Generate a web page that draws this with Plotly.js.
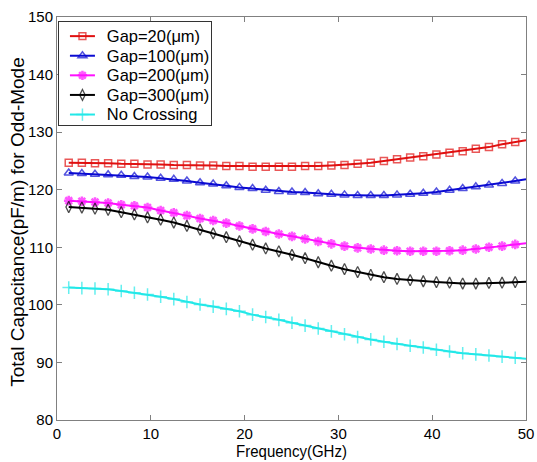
<!DOCTYPE html>
<html>
<head>
<meta charset="utf-8">
<script src="https://cdn.plot.ly/plotly-3.0.1.min.js"></script>
<style>html,body{margin:0;padding:0;background:#fff;}#chart{width:537px;height:462px;}</style>
</head>
<body>
<div id="chart"></div>
<script>
const freq = [1.25, 2.65, 4.05, 5.45, 6.85, 8.25, 9.65, 11.05, 12.45, 13.85, 15.25, 16.65, 18.05, 19.45, 20.85, 22.25, 23.65, 25.05, 26.45, 27.85, 29.25, 30.65, 32.05, 33.45, 34.85, 36.25, 37.65, 39.05, 40.45, 41.85, 43.25, 44.65, 46.05, 47.45, 48.85, 50];
const gap20 = [124.7, 124.7, 124.6, 124.6, 124.5, 124.5, 124.4, 124.4, 124.3, 124.3, 124.2, 124.2, 124.1, 124.1, 124.0, 124.0, 124.0, 124.0, 124.1, 124.1, 124.2, 124.3, 124.5, 124.7, 125.0, 125.3, 125.6, 125.8, 126.1, 126.4, 126.7, 127.1, 127.4, 127.9, 128.3, 128.6];
const gap100 = [122.9, 122.8, 122.7, 122.6, 122.5, 122.3, 122.2, 122.0, 121.8, 121.5, 121.2, 121.0, 120.7, 120.4, 120.2, 119.9, 119.7, 119.6, 119.5, 119.3, 119.2, 119.1, 119.0, 119.0, 119.0, 119.1, 119.2, 119.4, 119.6, 119.9, 120.2, 120.5, 120.8, 121.1, 121.5, 121.8];
const gap200 = [118.1, 118.0, 117.85, 117.7, 117.4, 117.2, 116.9, 116.4, 116.0, 115.5, 115.0, 114.65, 114.2, 113.7, 113.2, 112.75, 112.3, 111.9, 111.45, 111.0, 110.6, 110.2, 109.9, 109.7, 109.5, 109.4, 109.3, 109.3, 109.3, 109.4, 109.5, 109.7, 110.0, 110.2, 110.5, 110.7];
const gap300 = [117.0, 116.9, 116.7, 116.5, 116.1, 115.7, 115.2, 114.8, 114.3, 113.7, 113.05, 112.4, 111.75, 111.05, 110.45, 109.8, 109.3, 108.7, 108.1, 107.4, 106.8, 106.2, 105.7, 105.2, 104.8, 104.5, 104.3, 104.1, 103.95, 103.85, 103.7, 103.7, 103.8, 103.85, 103.95, 104.0];
const noCross = [103.0, 102.9, 102.85, 102.7, 102.4, 102.1, 101.8, 101.4, 101.0, 100.5, 100.05, 99.7, 99.3, 98.9, 98.3, 97.9, 97.4, 96.9, 96.4, 95.9, 95.4, 94.9, 94.4, 94.0, 93.6, 93.2, 92.9, 92.6, 92.2, 91.9, 91.6, 91.4, 91.2, 91.0, 90.8, 90.65];
const seriesNames = ["Gap=20(\u03bcm)", "Gap=100(\u03bcm)", "Gap=200(\u03bcm)", "Gap=300(\u03bcm)", "No Crossing"];
const xTickVals = [0, 10, 20, 30, 40, 50];
const yTickVals = [80, 90, 100, 110, 120, 130, 140, 150];

const colors = ["#e01010", "#0a0ad2", "#ff10ff", "#000000", "#22e8e8"];
const symbols = ["square-open", "triangle-up-open", "asterisk-open", "diamond-tall-open", "cross-thin-open"];
const msizes = [7, 8, 8, 8, 9];
const mlw = [1.5, 1.5, 2.5, 1.3, 1.5];
const allY = [gap20, gap100, gap200, gap300, noCross];

const traces = allY.map((ys, k) => ({
  x: freq, y: ys, name: seriesNames[k], type: "scatter", mode: "lines+markers",
  line: {color: colors[k], width: 2},
  marker: {symbol: symbols[k], size: freq.map((f, i) => (i === freq.length - 1 ? 0 : msizes[k])),
           color: colors[k], line: {color: colors[k], width: mlw[k]}}
}));

const FF = "Liberation Sans, Arial, sans-serif";
const layout = {
  width: 537, height: 462,
  margin: {l: 57, r: 11, t: 17, b: 42},
  paper_bgcolor: "#fff", plot_bgcolor: "#fff",
  showlegend: true,
  legend: {x: 0.002, y: 0.989, xanchor: "left", yanchor: "top", bgcolor: "#fff",
           bordercolor: "#333", borderwidth: 1, font: {family: FF, size: 13, color: "#000"}, tracegroupgap: 0},
  xaxis: {range: [0, 50], tickvals: xTickVals, ticktext: xTickVals.map(String), ticks: "inside", ticklen: 5,
          tickcolor: "#808080", showline: true, linecolor: "#808080", linewidth: 1, mirror: "ticks",
          showgrid: false, zeroline: false, tickfont: {family: FF, size: 15, color: "#000"},
          title: {text: "Frequency(GHz)", font: {family: FF, size: 15, color: "#000"}, standoff: 2}},
  yaxis: {range: [80, 150], tickvals: yTickVals, ticktext: yTickVals.map(String), ticks: "inside", ticklen: 5,
          tickcolor: "#808080", showline: true, linecolor: "#808080", linewidth: 1, mirror: "ticks",
          showgrid: false, zeroline: false, tickfont: {family: FF, size: 15, color: "#000"},
          title: {text: "Total Capacitance(pF/m) for Odd-Mode", font: {family: FF, size: 19, color: "#000"}, standoff: 0}}
};

function stretchY(el, sy, targetCy) {
  const b = el.getBBox();
  const r = el.getBoundingClientRect();
  const localCy = b.y + b.height / 2;
  const offset = (r.top + r.height / 2) - localCy;
  const existing = el.getAttribute("transform") || "";
  el.setAttribute("transform", existing + " translate(0," + (targetCy - offset) + ") scale(1," + sy + ") translate(0," + (-localCy) + ")");
}

Plotly.newPlot("chart", traces, layout, {staticPlot: true, displayModeBar: false}).then(gd => {
  const leg = gd.querySelector("g.legend");
  if (leg) {
    const sb = leg.querySelector("g.scrollbox");
    if (sb) sb.removeAttribute("clip-path");
    const bg = leg.querySelector("rect.bg");
    if (bg) { bg.setAttribute("width", 153); bg.setAttribute("height", 104); }
    const rowY = [14.7, 34.3, 53.9, 73.5, 93.1];
    leg.querySelectorAll("g.traces").forEach((g, i) => {
      g.setAttribute("transform", "translate(0," + rowY[i] + ")");
      const t = g.querySelector("text.legendtext");
      if (t) {
        t.style.fontSize = "16px";
        t.setAttribute("x", 47.5);
        t.setAttribute("y", 5.6);
        t.setAttribute("transform", "scale(1.03,1.05)");
      }
      g.querySelectorAll("path.js-line").forEach(p => p.setAttribute("d", "M12,0h25"));
      g.querySelectorAll("path.scatterpts").forEach(p => p.setAttribute("transform", "translate(24.5,0)"));
    });
  }
  const xt = gd.querySelector("text.xtitle");
  if (xt) stretchY(xt, 1.15, 451);
  const yt = gd.querySelector("text.ytitle");
  if (yt) {
    const r = yt.getBoundingClientRect();
    const dx = 17 - (r.left + r.width / 2);
    const dy = 222 - (r.top + r.height / 2);
    const existing = yt.getAttribute("transform") || "";
    yt.setAttribute("transform", "translate(" + dx + "," + dy + ") " + existing);
  }
});
</script>
</body>
</html>
